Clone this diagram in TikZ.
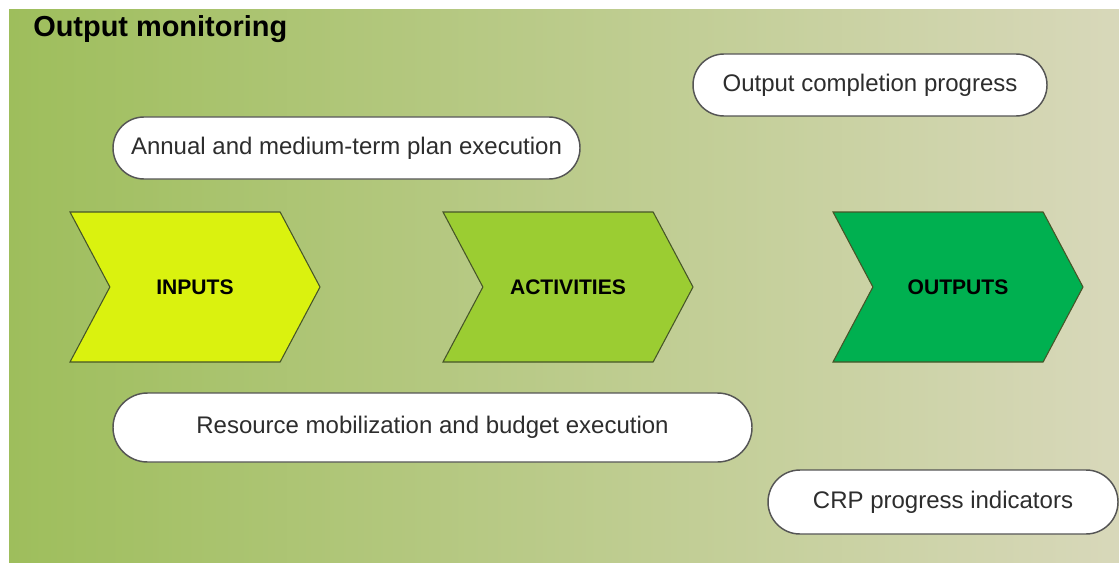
\documentclass[tikz,border=0pt]{standalone}
\usepackage{fontspec}
\setmainfont{Liberation Sans}
\usetikzlibrary{shapes.symbols,shapes.misc}
\newcommand{\pix}{0.75pt}
\definecolor{bgleft}{RGB}{158,190,92}
\definecolor{bgmid}{RGB}{192,207,148}
\definecolor{bgright}{RGB}{216,216,186}
\definecolor{inputcol}{RGB}{218,242,15}
\definecolor{activitycol}{RGB}{155,205,50}
\definecolor{outputcol}{RGB}{0,176,80}
\definecolor{chevline}{RGB}{70,85,40}
\definecolor{pillline}{RGB}{85,85,85}
\definecolor{pilltext}{RGB}{45,45,45}

\begin{document}
\begin{tikzpicture}[x=\pix, y=-\pix,
    pill/.style={draw=pillline, fill=white, rounded rectangle, line width=1.1pt, inner sep=0pt, text=pilltext, font=\fontsize{18}{20}\selectfont},
    chev/.style={draw=chevline, signal, signal from=west, signal to=east, signal pointer angle=124, minimum width=250*\pix, minimum height=150*\pix, inner sep=0pt, line width=0.8pt, font=\fontsize{15.8}{18}\selectfont\bfseries}]
    \useasboundingbox (0,0) rectangle (1119,563);
    % Background
    \shade[left color=bgleft, middle color=bgmid, right color=bgright] (9,10) rectangle (1119,563);
    \node[anchor=base west, inner sep=0pt, font=\fontsize{21.7}{24}\selectfont\bfseries] (title) at (33,37) {Output monitoring};

    % Chain
    \node[chev, fill=inputcol] (inputs) at (195,287) {INPUTS};
    \node[chev, fill=activitycol] (activities) at (568,287) {ACTIVITIES};
    \node[chev, fill=outputcol] (outputs) at (958,287) {OUTPUTS};

    % Monitoring labels
    \node[pill, minimum width=354*\pix, minimum height=62*\pix] (completion) at (870,85) {Output completion progress};
    \node[pill, minimum width=467*\pix, minimum height=62*\pix] (plan) at (346.5,148) {Annual and medium-term plan execution};
    \node[pill, minimum width=639*\pix, minimum height=69*\pix] (budget) at (432.5,427.5) {Resource mobilization and budget execution};
    \node[pill, minimum width=350*\pix, minimum height=64*\pix] (crp) at (943,502) {CRP progress indicators};
\end{tikzpicture}
\end{document}
